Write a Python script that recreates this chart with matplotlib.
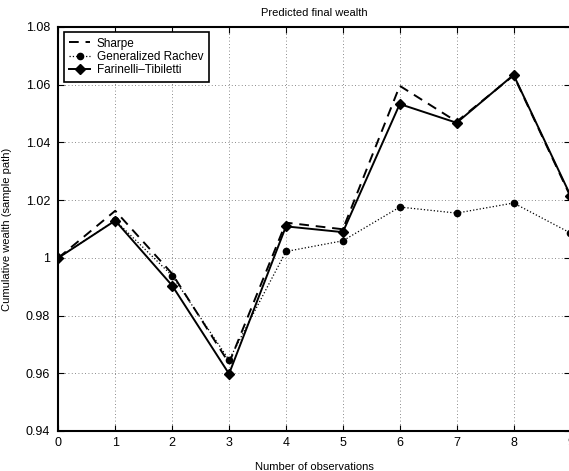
import matplotlib
matplotlib.use("Agg")
from matplotlib import pyplot as plt

plt.rcParams['font.family'] = ['Liberation Sans', 'DejaVu Sans']
plt.rcParams['font.size'] = 8

obs = [0, 1, 2, 3, 4, 5, 6, 7, 8, 9]
sharpe = [1.000, 1.0163, 0.9945, 0.9635, 1.0122, 1.0099, 1.0596, 1.0472, 1.0632, 1.0212]
rachev = [1.000, 1.0130, 0.9938, 0.9646, 1.0022, 1.0059, 1.0176, 1.0155, 1.0190, 1.0086]
farinelli = [1.000, 1.0129, 0.9904, 0.9598, 1.0109, 1.0089, 1.0533, 1.0468, 1.0634, 1.0216]

yticks = [0.94, 0.96, 0.98, 1.00, 1.02, 1.04, 1.06, 1.08]

fig = plt.figure(figsize=(5.69, 4.71), dpi=100)
ax = fig.add_axes([0.1025, 0.085, 0.9001, 0.8577])

ax.plot(obs, sharpe, color='k', linestyle=(0, (5, 3.5)), linewidth=1.4, label='Sharpe')
ax.plot(obs, rachev, color='k', linestyle=':', linewidth=0.9, marker='o',
        markersize=4.5, label='Generalized Rachev')
ax.plot(obs, farinelli, color='k', linestyle='-', linewidth=1.4, marker='D',
        markersize=5.5, label='Farinelli\u2013Tibiletti')

ax.set_xlim(0, 9)
ax.set_ylim(0.94, 1.08)
ax.set_xticks(obs)
ax.set_yticks(yticks)
ax.set_yticklabels(['%g' % v for v in yticks])
ax.grid(True, color='0.4', linestyle=(0, (1, 3)), linewidth=0.6)
ax.tick_params(direction='in', top=True, right=True, length=4, width=0.8,
               labelsize=9)
ax.tick_params(axis='y', pad=6)
ax.tick_params(axis='x', pad=4)
for s in ax.spines.values():
    s.set_linewidth(1.5)

ax.set_title('Predicted final wealth', fontsize=8, pad=8)
ax.set_xlabel('Number of observations', fontsize=8, labelpad=10)
ax.set_ylabel('Cumulative wealth (sample path)', fontsize=8, labelpad=10)

leg = ax.legend(loc='upper left', fancybox=False, edgecolor='k', framealpha=1,
                borderaxespad=0.45, handlelength=1.8, handletextpad=0.55,
                labelspacing=0.12, borderpad=0.45, fontsize=8.5)
leg.get_frame().set_linewidth(1.2)

fig.savefig('out.png', dpi=100)
